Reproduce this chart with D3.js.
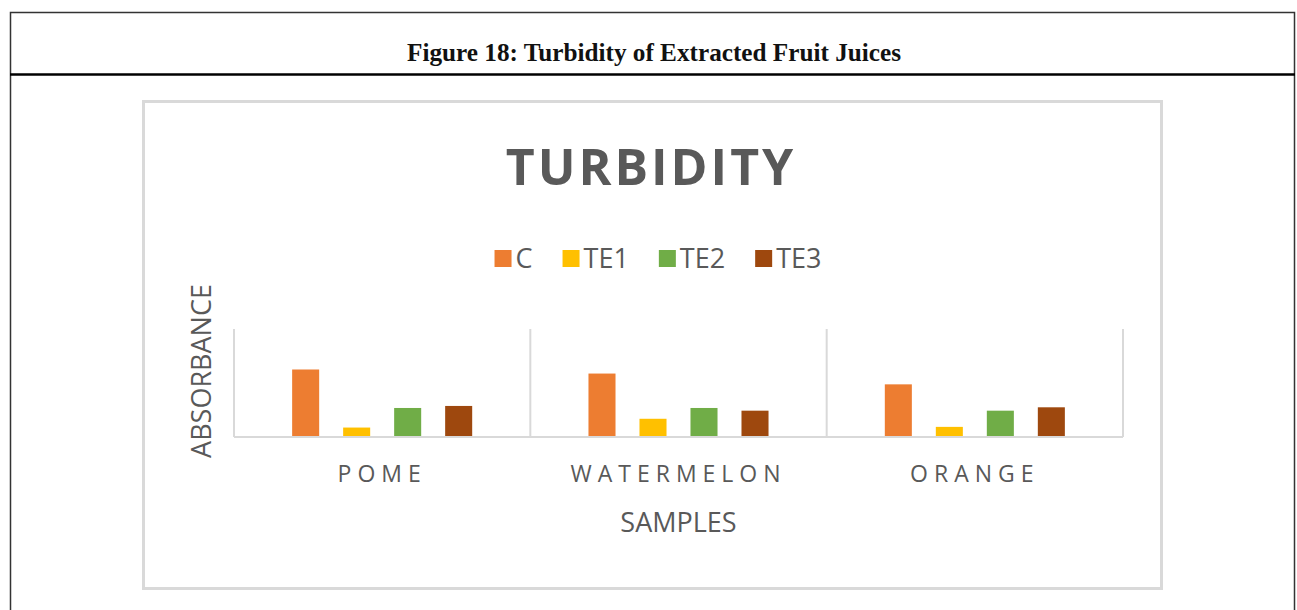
<!DOCTYPE html>
<html><head><meta charset="utf-8">
<script src="https://cdn.jsdelivr.net/npm/d3@7"></script>
<style>
html,body{margin:0;padding:0;background:#fff;}
svg{display:block;}
</style></head>
<body>
<svg id="chart" width="1297" height="610"></svg>
<script>
const categories = ["POME", "WATERMELON", "ORANGE"];
const seriesNames = ["C", "TE1", "TE2", "TE3"];
const valuesC   = [0.50, 0.47, 0.39];
const valuesTE1 = [0.07, 0.135, 0.075];
const valuesTE2 = [0.215, 0.215, 0.195];
const valuesTE3 = [0.23, 0.195, 0.22];
const seriesColors = ["#ED7D31", "#FFC000", "#70AD47", "#9E480E"];
const yDomain = [0, 0.8];

const seriesValues = [valuesC, valuesTE1, valuesTE2, valuesTE3];
const svg = d3.select("#chart");
const FONT = "'Open Sans', sans-serif";
const TXT = "#595959";

// outer frame
svg.append("rect").attr("x", 10.5).attr("y", 12.5).attr("width", 1284).attr("height", 640)
  .attr("fill", "none").attr("stroke", "#333").attr("stroke-width", 1.5);
svg.append("line").attr("x1", 10).attr("x2", 1295).attr("y1", 74.5).attr("y2", 74.5)
  .attr("stroke", "#000").attr("stroke-width", 2.5);
svg.append("text").attr("x", 654).attr("y", 61).attr("text-anchor", "middle")
  .attr("font-family", "'Liberation Serif', 'Times New Roman', serif").attr("font-weight", "bold")
  .attr("font-size", 25).attr("fill", "#111").attr("textLength", 494).attr("lengthAdjust", "spacingAndGlyphs")
  .text("Figure 18: Turbidity of Extracted Fruit Juices");

// chart box
svg.append("rect").attr("x", 143.5).attr("y", 101.5).attr("width", 1018).attr("height", 487)
  .attr("fill", "#fff").attr("stroke", "#d9d9d9").attr("stroke-width", 3);

svg.append("text").attr("x", 651).attr("y", 185).attr("text-anchor", "middle")
  .attr("font-family", FONT).attr("font-weight", "bold").attr("font-size", 50)
  .attr("letter-spacing", 3).attr("fill", TXT).text("TURBIDITY");

// scales
const plotLeft = 234, plotRight = 1123, plotBase = 437, plotTop = 329;
const x0 = d3.scaleBand().domain(categories).range([plotLeft, plotRight]).paddingInner(0).paddingOuter(0);
const x1 = d3.scaleBand().domain(seriesNames).range([0, x0.bandwidth()]).paddingInner(0.47).paddingOuter(1.14);
const y = d3.scaleLinear().domain(yDomain).range([plotBase, plotTop]);

// dividers at category boundaries
const bounds = categories.map(c => x0(c)).concat([plotRight]);
svg.append("g").selectAll("line").data(bounds).join("line")
  .attr("x1", d => d).attr("x2", d => d).attr("y1", y(yDomain[1])).attr("y2", plotBase)
  .attr("stroke", "#d9d9d9").attr("stroke-width", 2);

// bars
const g = svg.append("g");
categories.forEach((c, ci) => {
  seriesNames.forEach((s, si) => {
    const v = seriesValues[si][ci];
    g.append("rect").attr("x", x0(c) + x1(s)).attr("width", x1.bandwidth())
      .attr("y", y(v)).attr("height", y(0) - y(v)).attr("fill", seriesColors[si]);
  });
});

// x axis
const xAxis = d3.axisBottom(x0).tickSize(0).tickPadding(0);
const ax = svg.append("g").attr("transform", `translate(0,${plotBase})`).call(xAxis);
ax.select(".domain").attr("stroke", "#d9d9d9").attr("stroke-width", 2).attr("d", `M${plotLeft},0H${plotRight}`);
ax.selectAll(".tick text").attr("font-family", FONT).attr("font-size", 23).attr("fill", TXT)
  .attr("letter-spacing", 6).attr("dy", 0).attr("y", 45).attr("dx", 0);

// axis titles
svg.append("text").attr("x", (plotLeft + plotRight) / 2).attr("y", 532).attr("text-anchor", "middle")
  .attr("font-family", FONT).attr("font-size", 27).attr("fill", TXT).text("SAMPLES");
svg.append("text").attr("transform", `translate(211,${(plotTop + plotBase) / 2 - 12}) rotate(-90)`).attr("text-anchor", "middle")
  .attr("font-family", FONT).attr("font-size", 27).attr("fill", TXT).text("ABSORBANCE");

// legend
const leg = svg.append("g");
const items = leg.selectAll("g").data(seriesNames).join("g");
items.append("rect").attr("width", 17).attr("height", 17).attr("y", -18).attr("fill", (d, i) => seriesColors[i]);
items.append("text").attr("x", 21).attr("y", 0).attr("font-family", FONT).attr("font-size", 27)
  .attr("fill", TXT).text(d => d);
let cx = 0;
const pos = [];
items.each(function() {
  pos.push(cx);
  const w = d3.select(this).select("text").node().getComputedTextLength();
  cx += 21 + w + 30;
});
const total = cx - 30;
const lx0 = 658 - total / 2;
items.attr("transform", (d, i) => `translate(${lx0 + pos[i]},268)`);
</script>
</body></html>
